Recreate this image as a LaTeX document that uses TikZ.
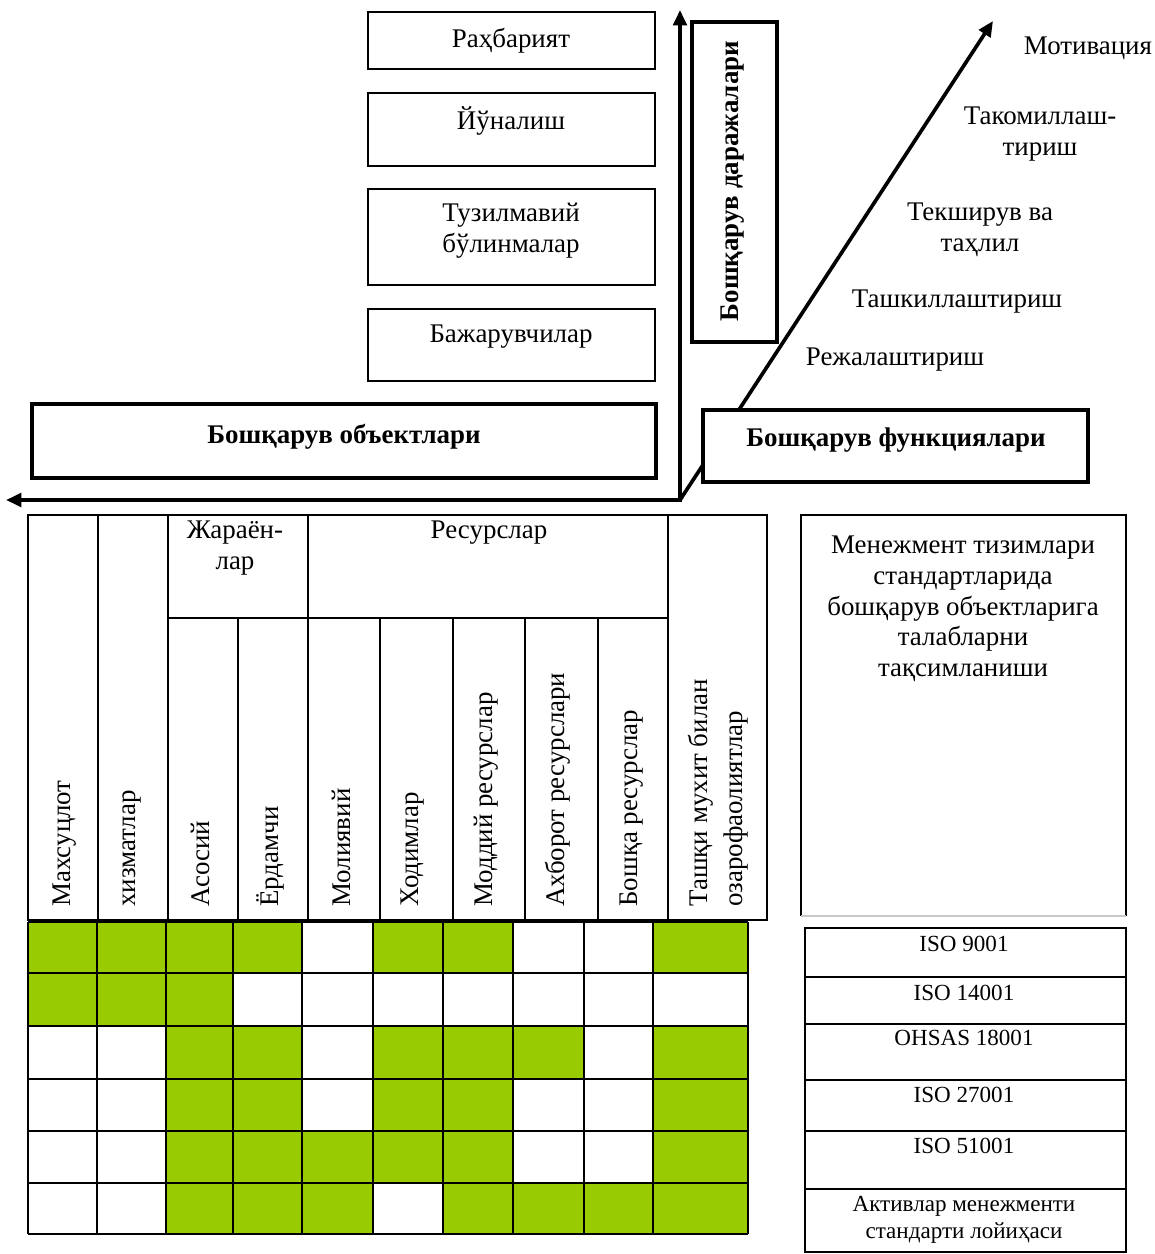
\documentclass[tikz,border=0pt]{standalone}
\usepackage{fontspec}
\setmainfont{Liberation Serif}
\usetikzlibrary{arrows.meta,fit}
\definecolor{grn}{RGB}{153,204,0}
\definecolor{lgray}{RGB}{200,200,200}
\begin{document}
\begin{tikzpicture}[x=0.52pt,y=-0.52pt,
  thinbox/.style={draw, line width=0.8pt, inner sep=0pt},
  thickbox/.style={draw, line width=1.9pt, inner sep=0pt, fill=white},
  txt/.style={font=\fontsize{14}{16}\selectfont, align=center, inner sep=0pt},
  btxt/.style={font=\fontsize{14}{16}\selectfont\bfseries, align=center, inner sep=0pt},
  stxt/.style={font=\fontsize{12}{14}\selectfont, align=center, inner sep=0pt},
  vtxt/.style={font=\fontsize{14}{18}\selectfont, align=left, inner sep=0pt, rotate=90, anchor=west},
  tip/.tip={Triangle[length=8pt,width=7pt]},
  axisline/.style={line width=1.9pt, line join=miter},
  tbl/.style={line width=1pt},
]
\useasboundingbox (0,0) rectangle (1155,1254);

% ---- level boxes
\node[thinbox, fit={(368,12)(655,69)}] (b1) {};
\node[txt] (t1) at (511,41) {Раҳбарият};
\node[thinbox, fit={(368,93)(655,166)}] (b2) {};
\node[txt] (t2) at (511,121) {Йўналиш};
\node[thinbox, fit={(368,189)(655,285)}] (b3) {};
\node[txt] (t3) at (511,231) {Тузилмавий\\бўлинмалар};
\node[thinbox, fit={(368,309)(655,381)}] (b4) {};
\node[txt] (t4) at (511,337) {Бажарувчилар};

% ---- axes
\coordinate (O) at (680,500);
\coordinate (vT) at (680,10);
\coordinate (hT) at (6,500);
\coordinate (dT) at (993,21);
\draw[axisline, tip-tip] (vT) -- (O) -- (hT);
\draw[axisline, -tip] (O) -- (dT);

% ---- thick boxes
\node[thickbox, fit={(32,404)(656,478)}] (obj) {};
\node[btxt] (objt) at (344,437) {Бошқарув объектлари};
\node[thickbox, fit={(703,410)(1088,482)}] (fun) {};
\node[btxt] (funt) at (896,440) {Бошқарув функциялари};
\node[thickbox, fit={(692,22)(777,342)}] (lev) {};
\node[btxt, rotate=90] (levt) at (733,181) {Бошқарув даражалари};

% ---- function labels
\node[txt] (f5) at (1088,48) {Мотивация};
\node[txt] (f4) at (1040,134) {Такомиллаш-\\тириш};
\node[txt] (f3) at (980,230) {Текширув ва\\таҳлил};
\node[txt] (f2) at (957,302) {Ташкиллаштириш};
\node[txt] (f1) at (895,360) {Режалаштириш};

% ---- header table
\draw[tbl] (28,515) rectangle (767,920);
\foreach \x in {98,168,308,668} \draw[tbl] (\x,515) -- (\x,920);
\foreach \x in {238,380,453,525,598} \draw[tbl] (\x,618) -- (\x,920);
\draw[tbl] (168,618) -- (668,618);

\node[txt] (hj) at (235,548) {Жараён-\\лар};
\node[txt] (hr) at (489,533) {Ресурслар};
\node[vtxt] (c1) at (65,907) {Махсуцлот};
\node[vtxt] (c2) at (132,907) {хизматлар};
\node[vtxt] (c3) at (200,907) {Асосий};
\node[vtxt] (c4) at (270,907) {Ёрдамчи};
\node[vtxt] (c5) at (341,907) {Молиявий};
\node[vtxt] (c6) at (413,907) {Ходимлар};
\node[vtxt] (c7) at (486,907) {Моддий ресурслар};
\node[vtxt] (c8) at (558,907) {Ахборот ресурслари};
\node[vtxt] (c9) at (632,907) {Бошқа ресурслар};
\node[vtxt] (c10) at (718,907) {Ташқи мухит билан\\озарофаолиятлар};

% ---- grid
\def\gx{{28,97,166,233,302,373,443,513,584,653,748}}
\def\gy{{922,973,1026,1079,1131,1183,1234}}
\foreach \r/\row in {0/{1,1,1,1,0,1,1,0,0,1},
                     1/{1,1,1,0,0,0,0,0,0,0},
                     2/{0,0,1,1,0,1,1,1,0,1},
                     3/{0,0,1,1,0,1,1,0,0,1},
                     4/{0,0,1,1,1,1,1,0,0,1},
                     5/{0,0,1,1,1,0,1,1,1,1}}{
  \foreach \v [count=\c from 0] in \row {
    \pgfmathsetmacro{\xa}{\gx[\c]}
    \pgfmathsetmacro{\xb}{\gx[\c+1]}
    \pgfmathsetmacro{\ya}{\gy[\r]}
    \pgfmathsetmacro{\yb}{\gy[\r+1]}
    \ifnum\v=1
      \fill[grn] (\xa,\ya) rectangle (\xb,\yb);
    \fi
  }
}
\foreach \x in {28,97,166,233,302,373,443,513,584,653,748} \draw[tbl] (\x,922) -- (\x,1234);
\foreach \y in {922,973,1026,1079,1131,1183,1234} \draw[tbl] (28,\y) -- (748,\y);

% ---- right side
\draw[line width=0.8pt] (801,916) -- (801,515) -- (1126,515) -- (1126,916);
\draw[lgray, line width=0.6pt] (801,916) -- (1126,916);
\node[txt] (rt) at (963,609) {Менежмент тизимлари\\стандартларида\\бошқарув объектларига\\талабларни\\тақсимланиши};

\draw[tbl] (805,928) rectangle (1126,1252);
\foreach \y in {977,1024,1080,1131,1189} \draw[tbl] (805,\y) -- (1126,\y);
\node[stxt] (s1) at (964,944) {ISO 9001};
\node[stxt] (s2) at (964,993) {ISO 14001};
\node[stxt] (s3) at (964,1038) {OHSAS 18001};
\node[stxt] (s4) at (964,1095) {ISO 27001};
\node[stxt] (s5) at (964,1146) {ISO 51001};
\node[stxt] (s6) at (964,1220) {Активлар менежменти\\стандарти лойиҳаси};
\end{tikzpicture}
\end{document}
